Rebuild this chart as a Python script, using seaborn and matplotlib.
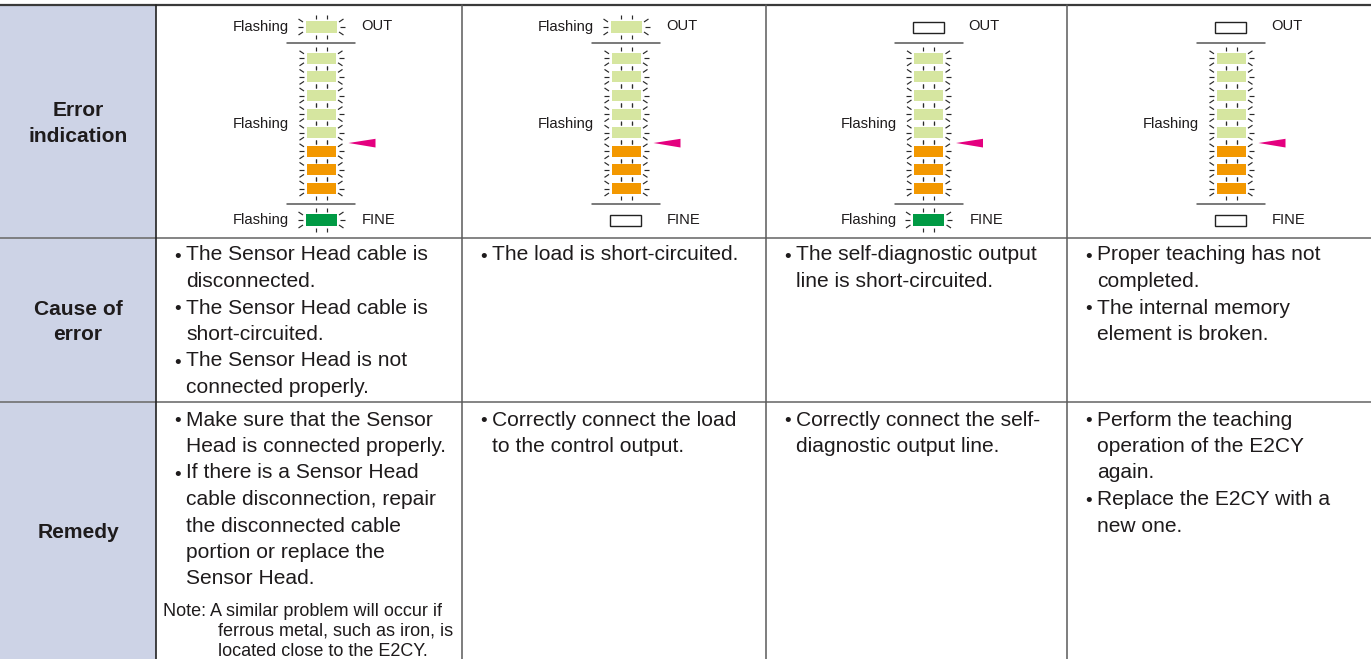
import matplotlib
matplotlib.use("Agg")
import matplotlib.pyplot as plt
import seaborn as sns
from matplotlib.patches import Rectangle, Polygon
from matplotlib.collections import LineCollection

sns.set_theme(style="white")
plt.rcParams['font.family'] = ['Liberation Sans', 'DejaVu Sans']

# table layout (pixels)
col_edges = [0, 156, 462, 766, 1067, 1371]
row_edges = [5, 238, 402, 659]
row_titles = [["Error", "indication"], ["Cause of", "error"], ["Remedy"]]

# indicator states per column
out_state = ["flash", "flash", "off", "off"]
fine_state = ["flash", "off", "flash", "off"]
stack_colors = ["#d6e6a0"] * 5 + ["#f39800"] * 3
out_color = "#d6e6a0"
fine_color = "#009a44"

cause_text = [
    [["The Sensor Head cable is", "disconnected."],
     ["The Sensor Head cable is", "short-circuited."],
     ["The Sensor Head is not", "connected properly."]],
    [["The load is short-circuited."]],
    [["The self-diagnostic output", "line is short-circuited."]],
    [["Proper teaching has not", "completed."],
     ["The internal memory", "element is broken."]],
]
remedy_text = [
    [["Make sure that the Sensor", "Head is connected properly."],
     ["If there is a Sensor Head", "cable disconnection, repair",
      "the disconnected cable", "portion or replace the", "Sensor Head."]],
    [["Correctly connect the load", "to the control output."]],
    [["Correctly connect the self-", "diagnostic output line."]],
    [["Perform the teaching", "operation of the E2CY", "again."],
     ["Replace the E2CY with a", "new one."]],
]
note_lines = ["Note: A similar problem will occur if",
              "ferrous metal, such as iron, is",
              "located close to the E2CY."]

TXT = "#1e1b1c"
PX = 0.72  # points per pixel at dpi 100

fig = plt.figure(figsize=(13.71, 6.59), dpi=100)
ax = fig.add_axes([0, 0, 1, 1])
ax.set_xlim(0, 1371)
ax.set_ylim(659, 0)
ax.axis("off")

# header column
ax.add_patch(Rectangle((0, row_edges[0]), col_edges[1], 659 - row_edges[0],
                       facecolor="#cdd3e6", edgecolor="none", zorder=0))

# grid
ax.plot([0, 1371], [row_edges[0]] * 2, color="#3a3a3a", lw=1.6)
for y in row_edges[1:3]:
    ax.plot([0, 1371], [y, y], color="#707070", lw=1.2)
ax.plot([col_edges[1]] * 2, [row_edges[0], 659], color="#222222", lw=1.2)
for x in col_edges[2:5]:
    ax.plot([x, x], [row_edges[0], 659], color="#5a5a5a", lw=1.1)

# row titles
for i, lines in enumerate(row_titles):
    yc = (row_edges[i] + row_edges[i + 1]) / 2
    n = len(lines)
    for j, s in enumerate(lines):
        y = yc + (j - (n - 1) / 2) * 25 + 7.5
        ax.text(78, y, s, ha="center", va="baseline", fontsize=21 * PX,
                fontweight="bold", color=TXT)


def flash_marks(cx, cy, w, h):
    segs = []
    l, r = cx - w / 2, cx + w / 2
    t, b = cy - h / 2, cy + h / 2
    for dx in (-5.5, 5.5):
        segs.append([(cx + dx, t - 5.8), (cx + dx, t - 2)])
        segs.append([(cx + dx, b + 2), (cx + dx, b + 5.8)])
    for sgn, edge in ((-1, l), (1, r)):
        segs.append([(edge + sgn * 3, cy), (edge + sgn * 8, cy)])
        segs.append([(edge + sgn * 2.5, t + 1), (edge + sgn * 7, t - 2)])
        segs.append([(edge + sgn * 2.5, b - 1), (edge + sgn * 7, b + 2)])
    return segs


def led(cx, cy, state, color, w=31, h=12):
    if state == "flash":
        ax.add_patch(Rectangle((cx - w / 2, cy - h / 2), w, h,
                               facecolor=color, edgecolor="none"))
        return flash_marks(cx, cy, w, h)
    ax.add_patch(Rectangle((cx - w / 2 - 0.5, cy - h / 2 + 0.5), w, h - 1,
                           facecolor="white", edgecolor="#222222", lw=1.0))
    return []


small = 14.8 * PX
stack_y0, stack_dy = 58.3, 18.6
for k in range(4):
    cx = (col_edges[k + 1] + col_edges[k + 2]) / 2 + 12
    segs = []
    # OUT indicator
    segs += led(cx, 27, out_state[k], out_color)
    if out_state[k] == "flash":
        ax.text(cx - 32, 27, "Flashing", ha="right", va="center",
                fontsize=small, color=TXT)
    ax.text(cx + 40, 26, "OUT", ha="left", va="center", fontsize=small, color=TXT)
    # separators
    ax.plot([cx - 34, cx + 34], [43, 43], color="#555555", lw=1.1)
    ax.plot([cx - 34, cx + 34], [204, 204], color="#555555", lw=1.1)
    # stacked level bar
    for i, c in enumerate(stack_colors):
        cy = stack_y0 + i * stack_dy
        ax.add_patch(Rectangle((cx - 14.5, cy - 5.5), 29, 11,
                               facecolor=c, edgecolor="none"))
        segs += flash_marks(cx, cy, 29, 11)
    ax.text(cx - 32, 124, "Flashing", ha="right", va="center",
            fontsize=small, color=TXT)
    # FINE indicator
    segs += led(cx, 220, fine_state[k], fine_color)
    if fine_state[k] == "flash":
        ax.text(cx - 32, 220, "Flashing", ha="right", va="center",
                fontsize=small, color=TXT)
    ax.text(cx + 41, 220, "FINE", ha="left", va="center", fontsize=small, color=TXT)
    ax.add_collection(LineCollection(segs, colors="#2a2a2a", linewidths=0.85))
    # pointer
    ax.add_patch(Polygon([(cx + 27.5, 143), (cx + 54.5, 138.8), (cx + 54.5, 147.5)],
                         closed=True, facecolor="#e4007f", edgecolor="none"))


def bullets(x0, y0, items, dy=26.5):
    y = y0
    for item in items:
        ax.text(x0 + 22, y + 1, "\u2022", ha="center", va="baseline",
                fontsize=19 * PX, color=TXT)
        for s in item:
            ax.text(x0 + 30, y, s, ha="left", va="baseline",
                    fontsize=21 * PX, color=TXT)
            y += dy
    return y


for k in range(4):
    x0 = col_edges[k + 1]
    bullets(x0, row_edges[1] + 22.5, cause_text[k])
    bullets(x0, row_edges[2] + 23.5, remedy_text[k])

# note under first remedy cell
for j, s in enumerate(note_lines):
    x = 163 if j == 0 else 218
    ax.text(x, 616 + j * 20, s, ha="left", va="baseline",
            fontsize=18 * PX, color=TXT)

fig.savefig("out.png", dpi=100)
